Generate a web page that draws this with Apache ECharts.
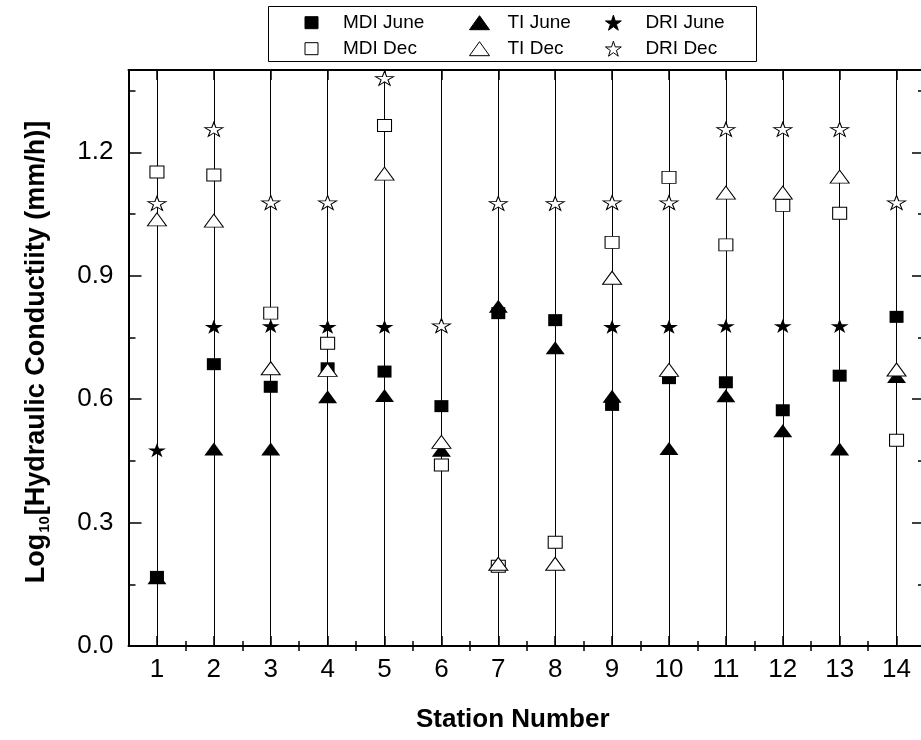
<!DOCTYPE html>
<html>
<head>
<meta charset="utf-8">
<script src="https://cdn.jsdelivr.net/npm/echarts@6/dist/echarts.min.js"></script>
<style>html,body{margin:0;padding:0;background:#fff}#c{width:921px;height:740px}</style>
</head>
<body>
<div id="c"></div>
<script>
// ---- data ----
const stations = [1, 2, 3, 4, 5, 6, 7, 8, 9, 10, 11, 12, 13, 14];
const mdiJune = [0.168, 0.685, 0.630, 0.675, 0.667, 0.583, 0.809, 0.792, 0.586, 0.651, 0.641, 0.573, 0.657, 0.800];
const tiJune  = [0.166, 0.479, 0.479, 0.606, 0.609, 0.476, 0.826, 0.725, 0.607, 0.480, 0.608, 0.523, 0.479, 0.655];
const driJune = [0.476, 0.776, 0.778, 0.776, 0.776, 0.778, null, null, 0.776, 0.776, 0.778, 0.778, 0.778, null];
const mdiDec  = [1.152, 1.145, 0.809, 0.736, 1.265, 0.440, 0.194, 0.252, 0.981, 1.139, 0.975, 1.071, 1.052, 0.500];
const tiDec   = [1.037, 1.034, 0.675, 0.671, 1.148, 0.496, 0.200, 0.200, 0.895, 0.671, 1.102, 1.102, 1.141, 0.672];
const driDec  = [1.076, 1.256, 1.078, 1.078, 1.380, 0.779, 1.076, 1.076, 1.078, 1.078, 1.256, 1.256, 1.256, 1.078];
const yMajorTicks = [0, 0.3, 0.6, 0.9, 1.2];
const yMinorTicks = [0.15, 0.45, 0.75, 1.05, 1.35];
const xMinorTicks = [1.5, 2.5, 3.5, 4.5, 5.5, 6.5, 7.5, 8.5, 9.5, 10.5, 11.5, 12.5, 13.5];

// ---- style ----
const FONT = '"Liberation Sans", Arial, Helvetica, sans-serif';
const STAR = 'path://M50,0L61.23,34.55L97.55,34.55L68.17,55.9L79.39,90.45L50,69.1L20.61,90.45L31.83,55.9L2.45,34.55L38.77,34.55Z';
const filled = {color: '#000', borderColor: '#000', borderWidth: 0, opacity: 1};
const hollow = {color: '#fff', borderColor: '#000', borderWidth: 1, opacity: 1};
const axisLine = {show: true, onZero: false, lineStyle: {color: '#000', width: 2}};
const tickStyle = {color: '#000', width: 1.5};

function pairs(vals) {
  return stations.map((s, i) => [s, vals[i]]).filter(p => p[1] !== null);
}

function xAxisDef(position, ticks, len, withLine, extra) {
  return Object.assign({
    type: 'value', min: 0.5, max: 14.5, position: position,
    axisLine: withLine ? axisLine : {show: false},
    axisTick: {show: true, inside: true, length: len, customValues: ticks, lineStyle: tickStyle},
    axisLabel: {show: false},
    splitLine: {show: false}
  }, extra || {});
}
function yAxisDef(position, ticks, len, withLine, extra) {
  return Object.assign({
    type: 'value', min: 0, max: 1.4, position: position,
    axisLine: withLine ? axisLine : {show: false},
    axisTick: {show: true, inside: true, length: len, customValues: ticks, lineStyle: tickStyle},
    axisLabel: {show: false},
    splitLine: {show: false}
  }, extra || {});
}

function scatter(name, vals, symbol, size, style, extra) {
  return Object.assign({
    name: name, type: 'scatter', xAxisIndex: 0, yAxisIndex: 0,
    symbol: symbol, symbolSize: size, itemStyle: style,
    emphasis: {disabled: true},
    data: pairs(vals), animation: false
  }, extra || {});
}

const legendText = (pad) => ({fontSize: 19, color: '#000', fontFamily: FONT, lineHeight: 20, padding: [0, 0, 0, pad]});

const chart = echarts.init(document.getElementById('c'), null, {renderer: 'canvas'});
chart.setOption({
  animation: false,
  backgroundColor: '#fff',
  grid: {left: 128.5, width: 796.5, top: 70, height: 576, containLabel: false, outerBoundsMode: 'none'},
  legend: [
    {orient: 'vertical', left: 304.5, top: 12.7, padding: 0, itemGap: 6, itemWidth: 13, itemHeight: 12,
     selectedMode: false, itemStyle: {borderWidth: 1},
     data: [{name: 'MDI June', icon: 'rect'}, {name: 'MDI Dec', icon: 'rect'}], textStyle: legendText(20)},
    {orient: 'vertical', left: 469, top: 12.7, padding: 0, itemGap: 6, itemWidth: 20, itemHeight: 14,
     selectedMode: false, itemStyle: {borderWidth: 1},
     data: [{name: 'TI June', icon: 'triangle'}, {name: 'TI Dec', icon: 'triangle'}], textStyle: legendText(13)},
    {orient: 'vertical', left: 605, top: 12.7, padding: 0, itemGap: 6, itemWidth: 20, itemHeight: 15,
     selectedMode: false, itemStyle: {borderWidth: 1},
     data: [{name: 'DRI June', icon: STAR}, {name: 'DRI Dec', icon: STAR}], textStyle: legendText(17)}
  ],
  graphic: [
    {type: 'rect', shape: {x: 268.5, y: 6.5, width: 488, height: 55}, style: {fill: 'none', stroke: '#000', lineWidth: 1}, silent: true}
  ],
  xAxis: [
    xAxisDef('bottom', stations, 10, true, {
      axisLabel: {show: true, customValues: stations, margin: 11, fontSize: 26, color: '#000', fontFamily: FONT},
      name: 'Station Number', nameLocation: 'middle', nameGap: 61,
      nameTextStyle: {fontSize: 26, fontWeight: 'bold', color: '#000', fontFamily: FONT, padding: [0, 28, 0, 0]}
    }),
    xAxisDef('bottom', xMinorTicks, 5, false),
    xAxisDef('top', stations, 10, true),
    xAxisDef('top', xMinorTicks, 5, false)
  ],
  yAxis: [
    yAxisDef('left', yMajorTicks, 13, true, {
      axisLabel: {show: true, customValues: yMajorTicks, formatter: v => Number(v).toFixed(1), margin: 15, fontSize: 26, color: '#000', fontFamily: FONT},
      name: '{a|Log}{s|10}{a|[Hydraulic Conductiity (mm/h)]}',
      nameLocation: 'middle', nameGap: 76,
      nameTextStyle: {
        padding: [0, 0, 0, 12],
        rich: {
          a: {fontSize: 27, fontWeight: 'bold', color: '#000', fontFamily: FONT, lineHeight: 31},
          s: {fontSize: 15, fontWeight: 'bold', color: '#000', fontFamily: FONT, lineHeight: 31, verticalAlign: 'bottom', padding: [0, 1, 0, 1]}
        }
      }
    }),
    yAxisDef('left', yMinorTicks, 7, false),
    yAxisDef('right', yMajorTicks, 13, true),
    yAxisDef('right', yMinorTicks, 7, false)
  ],
  series: [
    scatter('MDI June', mdiJune, 'rect', [14, 12], filled, {
      markLine: {
        silent: true, z: 1, symbol: ['none', 'none'], animation: false,
        label: {show: false},
        lineStyle: {color: '#000', width: 1, type: 'solid', opacity: 1},
        emphasis: {disabled: true},
        data: stations.map(s => ({xAxis: s}))
      }
    }),
    scatter('TI June', tiJune, 'triangle', [19, 13], filled),
    scatter('DRI June', driJune, STAR, [18, 14], filled),
    scatter('MDI Dec', mdiDec, 'rect', [14, 12], hollow),
    scatter('TI Dec', tiDec, 'triangle', [19, 13], hollow),
    scatter('DRI Dec', driDec, STAR, [18, 14], hollow)
  ]
});
</script>
</body>
</html>
